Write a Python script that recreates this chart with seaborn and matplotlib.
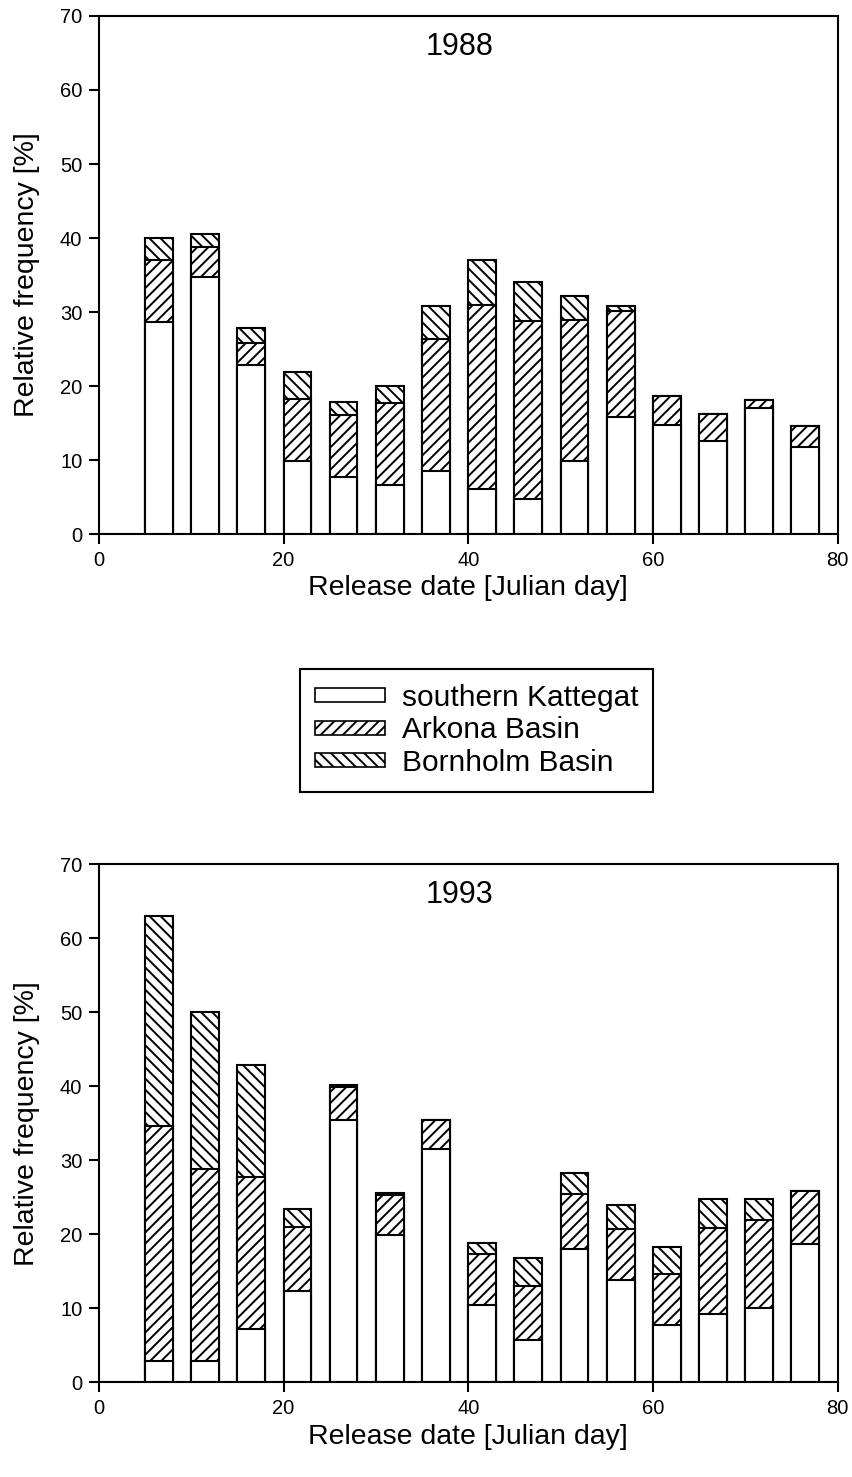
import numpy as np
import pandas as pd
import matplotlib
matplotlib.use("Agg")
import matplotlib.pyplot as plt
from matplotlib.patches import Patch
import seaborn as sns

# Bar centres (release date, Julian day), bars span 3 days
release_days = [6.5, 11.5, 16.5, 21.5, 26.5, 31.5, 36.5, 41.5, 46.5, 51.5, 56.5, 61.5, 66.5, 71.5, 76.5]

# 1988: cumulative tops of each stack layer [%]
kattegat_88 = [28.7, 34.7, 22.8, 9.9, 7.7, 6.6, 8.5, 6.1, 4.8, 9.9, 15.8, 14.8, 12.6, 17.1, 11.8]
arkona_88 = [37.1, 38.8, 25.8, 18.2, 16.1, 17.7, 26.4, 30.9, 28.8, 29.0, 30.1, 18.7, 16.2, 18.1, 14.6]
bornholm_88 = [40.0, 40.5, 27.8, 21.9, 17.8, 20.0, 30.8, 37.0, 34.0, 32.2, 30.8, 18.7, 16.2, 18.1, 14.6]

# 1993: cumulative tops of each stack layer [%]
kattegat_93 = [2.9, 2.9, 7.2, 12.3, 35.5, 19.9, 31.6, 10.5, 5.8, 18.0, 13.9, 7.7, 9.3, 10.1, 18.7]
arkona_93 = [34.7, 28.8, 27.7, 21.0, 39.9, 25.3, 35.5, 17.4, 13.1, 25.5, 20.7, 14.7, 20.9, 22.0, 25.9]
bornholm_93 = [63.0, 50.0, 42.9, 23.5, 40.2, 25.6, 35.5, 18.9, 16.8, 28.3, 24.0, 18.3, 24.8, 24.8, 25.9]

regions = ["southern Kattegat", "Arkona Basin", "Bornholm Basin"]
hatches = ["", "///", "\\\\\\"]

sns.set_style("ticks")
plt.rcParams["font.family"] = ["Liberation Sans", "DejaVu Sans"]
plt.rcParams["text.color"] = "black"
plt.rcParams["axes.labelcolor"] = "black"
plt.rcParams["hatch.linewidth"] = 1.4
plt.rcParams["hatch.color"] = "black"

fig = plt.figure(figsize=(8.53, 14.77), dpi=100)
ax_top = fig.add_axes([0.116, 0.6383, 0.866, 0.3509])
ax_bot = fig.add_axes([0.116, 0.0640, 0.866, 0.3508])


def draw_panel(ax, year, kattegat, arkona, bornholm):
    df = pd.DataFrame({"day": release_days, "Kattegat": kattegat,
                       "Arkona": arkona, "Bornholm": bornholm})
    # baseline between the bars
    ax.plot([0, 80], [0, 0], color="black", lw=2.2, zorder=1)
    # draw from the tallest layer down so each lower layer covers the one above
    for col, hatch in [("Bornholm", hatches[2]), ("Arkona", hatches[1]), ("Kattegat", hatches[0])]:
        sns.barplot(data=df, x="day", y=col, native_scale=True, width=0.6,
                    color="white", saturation=1, edgecolor="black", linewidth=1.5,
                    hatch=hatch, errorbar=None, ax=ax, zorder=2)
    ax.set_xlim(0, 80)
    ax.set_ylim(0, 70)
    ax.set_xticks([0, 20, 40, 60, 80])
    ax.set_yticks(range(0, 71, 10))
    ax.tick_params(direction="out", length=7, width=1.5, labelsize=14.5, colors="black", pad=5)
    for s in ax.spines.values():
        s.set_visible(True)
        s.set_linewidth(1.5)
        s.set_color("black")
    ax.set_xlabel("Release date [Julian day]", fontsize=20.5, labelpad=4)
    ax.set_ylabel("Relative frequency [%]", fontsize=20.5, labelpad=14)
    ax.text(39, 65.8, year, fontsize=22, ha="center", va="center")


draw_panel(ax_top, "1988", kattegat_88, arkona_88, bornholm_88)
draw_panel(ax_bot, "1993", kattegat_93, arkona_93, bornholm_93)

handles = [Patch(facecolor="white", edgecolor="black", hatch=h, linewidth=1.2) for h in hatches]
leg = fig.legend(handles, regions, loc="upper left", bbox_to_anchor=(0.352, 0.547),
                 fontsize=21.5, frameon=True, fancybox=False, framealpha=1,
                 handlelength=2.35, handleheight=0.35, labelspacing=0.15,
                 handletextpad=0.55, borderpad=0.5, borderaxespad=0)
leg.get_frame().set_edgecolor("black")
leg.get_frame().set_linewidth(1.5)

fig.savefig("out.png", dpi=100)
